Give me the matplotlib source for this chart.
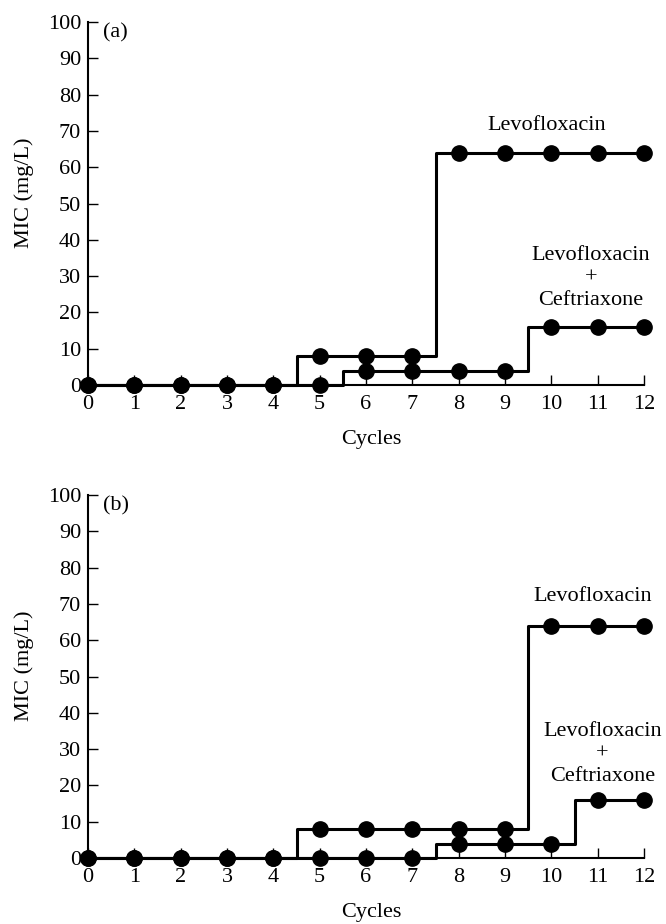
import matplotlib
matplotlib.use("Agg")
import matplotlib.pyplot as plt

plt.rcParams['font.family'] = ['Liberation Serif', 'DejaVu Serif']
plt.rcParams['font.size'] = 16

cycles = list(range(13))

# Panel (a)
levo_a = [0, 0, 0, 0, 0, 8, 8, 8, 64, 64, 64, 64, 64]
combo_a = [0, 0, 0, 0, 0, 0, 4, 4, 4, 4, 16, 16, 16]

# Panel (b)
levo_b = [0, 0, 0, 0, 0, 8, 8, 8, 8, 8, 64, 64, 64]
combo_b = [0, 0, 0, 0, 0, 0, 0, 0, 4, 4, 4, 16, 16]

panels = [
    ("(a)", levo_a, combo_a, (9.9, 71.5), (10.85, 29.5), [0.1321, 0.5833, 0.835, 0.3929]),
    ("(b)", levo_b, combo_b, (10.9, 72.0), (11.1, 28.7), [0.1321, 0.0714, 0.835, 0.3929]),
]

fig = plt.figure(figsize=(6.66, 9.24), dpi=100)

for tag, levo, combo, levo_pos, combo_pos, rect in panels:
    ax = fig.add_axes(rect)
    for series in (levo, combo):
        ax.plot(cycles, series, drawstyle='steps-mid', color='black', lw=2.2,
                clip_on=False, zorder=3)
        ax.plot(cycles, series, 'o', color='black', markersize=11,
                clip_on=False, zorder=4)

    ax.set_xlim(0, 12)
    ax.set_ylim(0, 100)
    ax.set_xticks(range(0, 13))
    ax.set_yticks(range(0, 101, 10))
    for side in ('top', 'right'):
        ax.spines[side].set_visible(False)
    for side in ('left', 'bottom'):
        ax.spines[side].set_linewidth(1.5)
    ax.tick_params(axis='both', direction='in', length=7, width=1.0, labelsize=16)
    ax.tick_params(axis='x', pad=7)
    ax.tick_params(axis='y', pad=5)

    ax.set_xlabel('Cycles', fontsize=16)
    ax.set_ylabel('MIC (mg/L)', fontsize=16)
    ax.xaxis.set_label_coords(0.509, -0.125)
    ax.yaxis.set_label_coords(-0.097, 0.53)

    ax.text(0.6, 97, tag, fontsize=16, ha='center', va='center')
    ax.text(levo_pos[0], levo_pos[1], 'Levofloxacin', fontsize=16,
            ha='center', va='center')
    ax.text(combo_pos[0], combo_pos[1], 'Levofloxacin\n+\nCeftriaxone',
            fontsize=16, ha='center', va='center', linespacing=1.25)

fig.savefig('out.png', dpi=100)
